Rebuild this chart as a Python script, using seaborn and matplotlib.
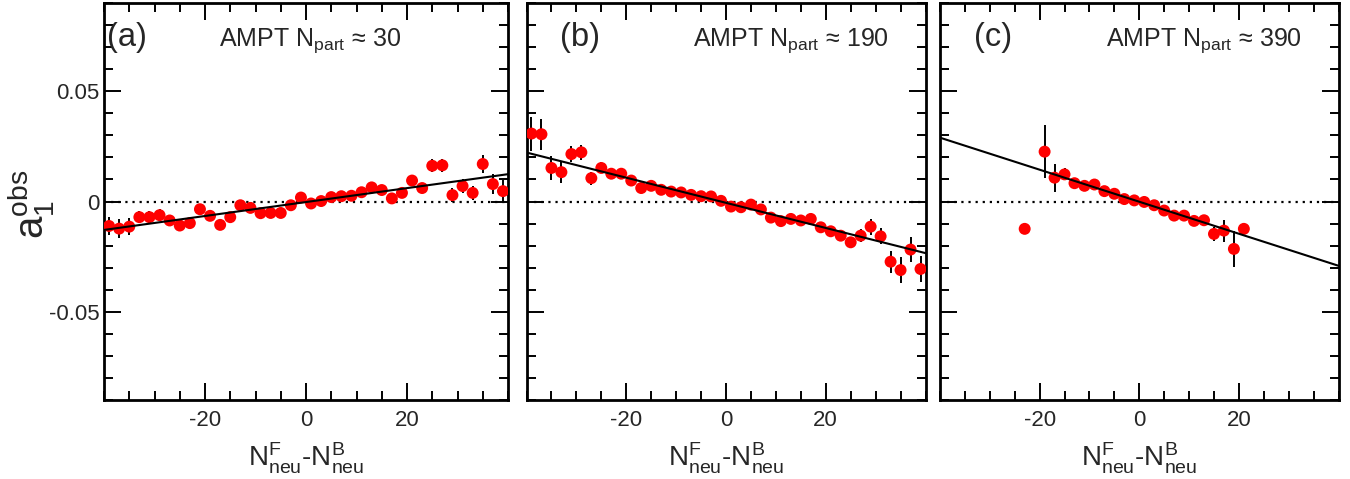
import numpy as np
import pandas as pd
import matplotlib
matplotlib.use("Agg")
import matplotlib.pyplot as plt
from matplotlib.ticker import MultipleLocator, FixedLocator, NullFormatter
import seaborn as sns

# ---- data -------------------------------------------------------------
x_ab = np.arange(-39, 40, 2)

a1_30 = [-0.0111, -0.0123, -0.0114, -0.0071, -0.0071, -0.0062, -0.0086, -0.0109,
         -0.0098, -0.0035, -0.0065, -0.0106, -0.0071, -0.0017, -0.0029, -0.0053,
         -0.0052, -0.0052, -0.0017, 0.0018, -0.0009, 0.0002, 0.0020, 0.0024,
         0.0026, 0.0042, 0.0064, 0.0052, 0.0014, 0.0039, 0.0095, 0.0061,
         0.0162, 0.0164, 0.0029, 0.0070, 0.0039, 0.0170, 0.0079, 0.0047]
err_30 = [0.0040, 0.0043, 0.0040, 0.0028, 0.0028, 0.0027, 0.0025, 0.0025,
          0.0024, 0.0022, 0.0020, 0.0020, 0.0020, 0.0020, 0.0020, 0.0020,
          0.0020, 0.0020, 0.0020, 0.0020, 0.0020, 0.0020, 0.0020, 0.0020,
          0.0020, 0.0020, 0.0020, 0.0020, 0.0020, 0.0020, 0.0022, 0.0023,
          0.0030, 0.0030, 0.0030, 0.0032, 0.0033, 0.0040, 0.0045, 0.0050]

a1_190 = [0.0308, 0.0305, 0.0152, 0.0133, 0.0215, 0.0223, 0.0106, 0.0152,
          0.0126, 0.0126, 0.0095, 0.0061, 0.0071, 0.0053, 0.0045, 0.0041,
          0.0030, 0.0024, 0.0023, 0.0003, -0.0023, -0.0026, -0.0014, -0.0036,
          -0.0073, -0.0089, -0.0079, -0.0086, -0.0079, -0.0117, -0.0135, -0.0155,
          -0.0185, -0.0155, -0.0114, -0.0158, -0.0273, -0.0311, -0.0218, -0.0306]
err_190 = [0.0077, 0.0070, 0.0053, 0.0050, 0.0036, 0.0033, 0.0030, 0.0025,
           0.0022, 0.0020, 0.0018, 0.0016, 0.0015, 0.0015, 0.0015, 0.0015,
           0.0015, 0.0015, 0.0015, 0.0015, 0.0015, 0.0015, 0.0015, 0.0015,
           0.0015, 0.0015, 0.0016, 0.0017, 0.0018, 0.0019, 0.0020, 0.0022,
           0.0025, 0.0030, 0.0036, 0.0036, 0.0050, 0.0060, 0.0057, 0.0060]

x_c = [-23, -19, -17, -15, -13, -11, -9, -7, -5, -3, -1,
       1, 3, 5, 7, 9, 11, 13, 15, 17, 19, 21]
a1_390 = [-0.0124, 0.0226, 0.0108, 0.0123, 0.0083, 0.0071, 0.0077, 0.0047,
          0.0035, 0.0011, 0.0005, -0.0002, -0.0017, -0.0041, -0.0064, -0.0064,
          -0.0088, -0.0085, -0.0147, -0.0132, -0.0215, -0.0124]
err_390 = [0.0010, 0.0119, 0.0063, 0.0027, 0.0015, 0.0015, 0.0015, 0.0015,
           0.0015, 0.0015, 0.0015, 0.0015, 0.0015, 0.0015, 0.0015, 0.0015,
           0.0015, 0.0015, 0.0030, 0.0050, 0.0083, 0.0020]

# linear fit parameters (slope, intercept) per centrality
fit_30 = (0.000316, -0.00025)
fit_190 = (-0.000570, -0.00060)
fit_390 = (-0.000726, -0.00010)

panel_tags = ["(a)", "(b)", "(c)"]
npart_labels = ["30", "190", "390"]

# ---- style --------------------------------------------------------------
sns.set_theme(style="ticks")
plt.rcParams["font.family"] = ["Liberation Sans", "DejaVu Sans"]
plt.rcParams["mathtext.fontset"] = "custom"
plt.rcParams["mathtext.rm"] = "Liberation Sans"
plt.rcParams["mathtext.it"] = "Liberation Sans"
plt.rcParams["mathtext.bf"] = "Liberation Sans:bold"

W, H = 1350, 479
fig = plt.figure(figsize=(W / 100, H / 100), dpi=100)
fig.patch.set_facecolor("white")

# axes boxes in pixels: (left, right)
boxes = [(104, 508), (526.5, 925.5), (940, 1338.5)]
top_px, bot_px = 3, 400

datasets = [
    (x_ab, a1_30, err_30, fit_30),
    (x_ab, a1_190, err_190, fit_190),
    (x_c, a1_390, err_390, fit_390),
]
tag_x = [-39.4, -33.2, -33.2]
text_x = [-17.3, -6.6, -6.6]

for i, ((l, r), (xv, yv, ev, fit)) in enumerate(zip(boxes, datasets)):
    ax = fig.add_axes([l / W, 1 - bot_px / H, (r - l) / W, (bot_px - top_px) / H])
    ax.set_facecolor("white")

    df = pd.DataFrame({"x": xv, "y": yv, "err": ev})

    # zero reference
    ax.axhline(0, color="black", lw=1.6, ls=(0, (1.0, 2.2)), zorder=1)

    # statistical errors
    ax.errorbar(df["x"], df["y"], yerr=df["err"], fmt="none",
                ecolor="black", elinewidth=1.4, capsize=0, zorder=2)
    sns.scatterplot(data=df, x="x", y="y", ax=ax, color="#ff0000",
                    s=74, edgecolor="none", linewidth=0, zorder=3, legend=False)

    # linear fit
    xf = np.array([-40.0, 40.0])
    fit_df = pd.DataFrame({"x": xf, "y": fit[0] * xf + fit[1]})
    sns.lineplot(data=fit_df, x="x", y="y", ax=ax, color="black",
                 lw=1.5, zorder=4, legend=False)

    ax.set_xlim(-40, 40)
    ax.set_ylim(-0.09, 0.09)

    # ticks
    ax.xaxis.set_major_locator(FixedLocator([-20, 0, 20]))
    ax.xaxis.set_minor_locator(MultipleLocator(5))
    ax.yaxis.set_major_locator(FixedLocator([-0.05, 0, 0.05]))
    ax.yaxis.set_minor_locator(MultipleLocator(0.01))
    ax.tick_params(which="both", direction="in", top=True, right=True,
                   width=1.4, color="black")
    ax.tick_params(which="major", length=12)
    ax.tick_params(which="minor", length=6.5)
    ax.tick_params(axis="x", which="major", labelsize=16, pad=7)
    ax.tick_params(axis="y", which="major", labelsize=16, pad=3)
    ax.set_xticklabels(["-20", "0", "20"])
    if i == 0:
        ax.set_yticklabels(["-0.05", "0", "0.05"])
    else:
        ax.yaxis.set_major_formatter(NullFormatter())
    for s in ax.spines.values():
        s.set_linewidth(2.0)
        s.set_color("black")
        s.set_visible(True)
    ax.set_xlabel("")
    ax.set_ylabel("")

    # panel annotations
    ax.text(tag_x[i], 0.0705, panel_tags[i], fontsize=23.5,
            ha="left", va="baseline")
    ax.text(text_x[i], 0.0705,
            r"AMPT $\mathregular{N_{part}}$ ≈ " + npart_labels[i],
            fontsize=18, ha="left", va="baseline")

    # x-axis title
    fig.text(((l + r) / 2) / W, 1 - 458 / H,
             r"$\mathregular{N^{F}_{neu}}$-$\mathregular{N^{B}_{neu}}$",
             fontsize=20, ha="center", va="center")

# y-axis title
fig.text(31 / W, 1 - 204 / H, r"$\mathregular{a^{obs}_{1}}$", fontsize=29,
         rotation=90, ha="center", va="center")

fig.savefig("out.png", dpi=100, facecolor="white")
